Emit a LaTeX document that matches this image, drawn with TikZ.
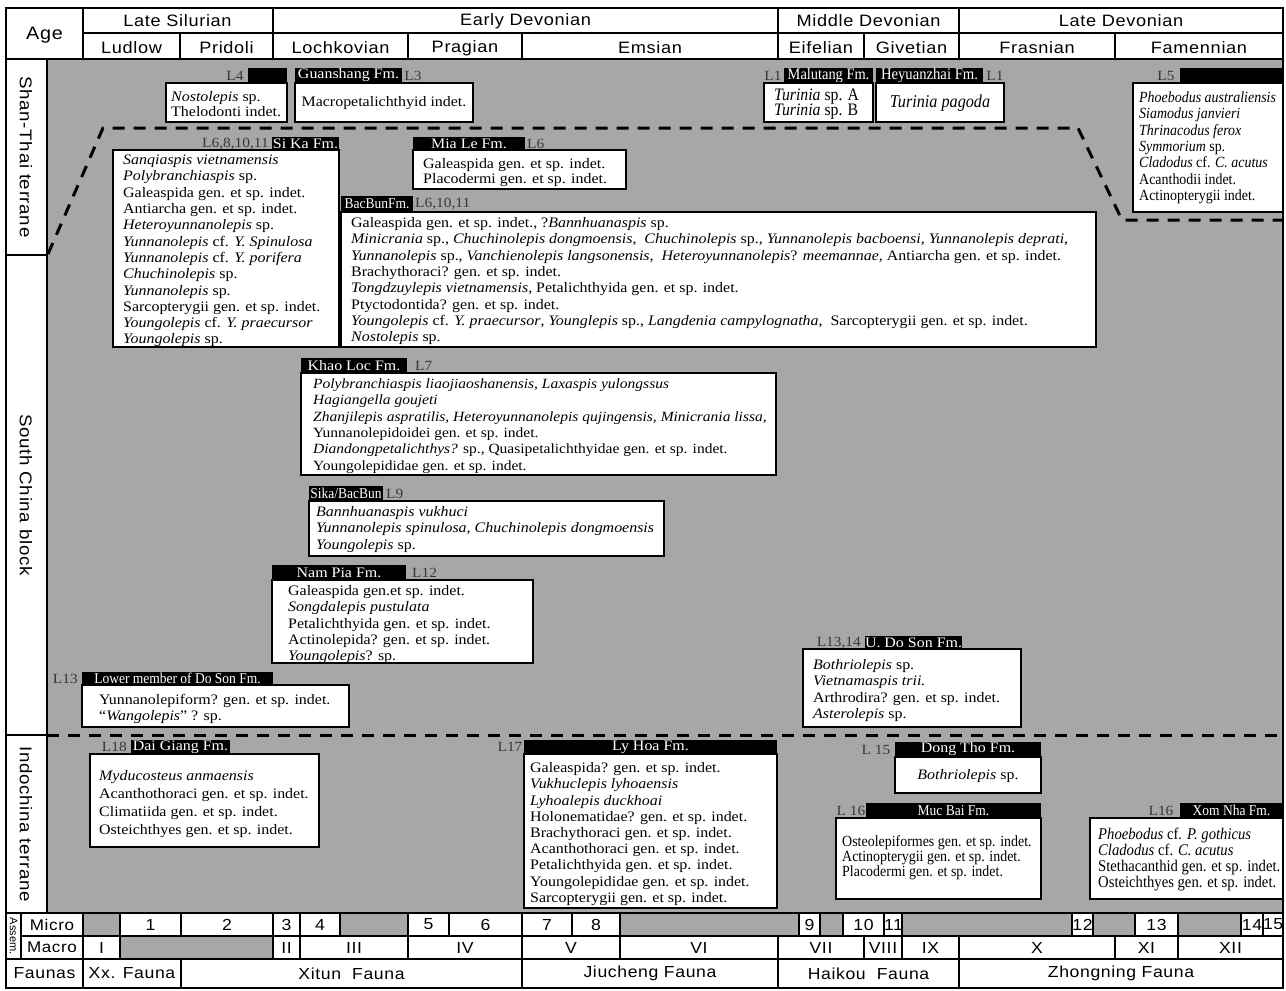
\documentclass[tikz,border=0pt]{standalone}
\usepackage{fontspec}
\setmainfont{Liberation Serif}
\setsansfont{Liberation Sans}
\newfontfamily\bodyserif[FakeStretch=1.1]{Liberation Serif}
\newfontfamily\narrowserif[FakeStretch=0.9]{Liberation Serif}
\newfontfamily\hdsans[FakeStretch=1.1, LetterSpace=4]{Liberation Sans}
\definecolor{bggray}{RGB}{167,167,167}
\definecolor{taggray}{RGB}{55,55,55}
\newcommand{\fl}{\rule{0pt}{11pt}}
\newcommand{\bodyfont}[1]{\bodyserif\fontsize{14.5}{#1}\selectfont}
\newcommand{\narrowfont}[1]{\narrowserif\fontsize{15.5}{#1}\selectfont}
\tikzset{
  fossil/.style={draw=black, line width=1.3pt, fill=white, inner sep=0pt, outer sep=0pt, anchor=north west},
  bar/.style={fill=black, text=white, inner sep=0pt, outer sep=0pt, anchor=north west, font=\bodyserif\fontsize{14.5}{14.5}\selectfont},
  nbar/.style={bar, font=\narrowserif\fontsize{15}{15}\selectfont},
  ltag/.style={text=taggray, inner sep=0pt, font=\bodyserif\fontsize{14}{14}\selectfont},
  txt/.style={inner sep=0pt, align=left, anchor=north west, font=\bodyfont{16.3}},
  ntxt/.style={inner sep=0pt, align=left, anchor=north west, font=\narrowfont{16.3}},
  hd/.style={inner sep=0pt, font=\hdsans\fontsize{16.5}{16.5}\selectfont},
  cell/.style={draw=black, line width=1.2pt, inner sep=0pt, outer sep=0pt, anchor=north west, font=\hdsans\fontsize{16}{16}\selectfont},
  bnd/.style={line width=3pt, dash pattern=on 12pt off 9pt},
  sepline/.style={line width=1.5pt},
}
\begin{document}
\begin{tikzpicture}[x=1pt,y=-1pt]
\useasboundingbox (0,0) rectangle (1286,991);
\fill[white] (0,0) rectangle (1286,991);
% gray field
\fill[bggray] (47,59) rectangle (1283,913);

% terrane boundaries
\coordinate (b1) at (48,254);
\coordinate (b2) at (103,128);
\coordinate (b3) at (1078,128);
\coordinate (b4) at (1122,220);
\coordinate (b5) at (1283,220);
\draw[bnd] (b1) -- (b2) -- (b3) -- (b4) -- (b5);
\coordinate (c1) at (47,735);
\coordinate (c2) at (1283,735);
\draw[bnd] (c1) -- (c2);

% ---------- Shan-Thai boxes
\node[ltag] (l4tag) at (235,75.5) {L4};
\node[bar, minimum width=39pt, minimum height=15pt] (l4bar) at (248,68) {};
\node[fossil, minimum width=121pt, minimum height=39pt] (l4box) at (166,83) {};
\node[txt, font=\bodyfont{15}] (l4txt) at (171,90.4) {\fl\textit{Nostolepis} sp.\\Thelodonti indet.};

\node[bar, minimum width=107pt, minimum height=15pt] (guanbar) at (295,68) {Guanshang Fm.};
\node[ltag] (l3tag) at (413,75.5) {L3};
\node[fossil, minimum width=178pt, minimum height=39pt] (guanbox) at (295,83) {};
\node[inner sep=0pt, font=\bodyfont{16}] (guantxt) at (384,103) {Macropetalichthyid indet.};

\node[ltag] (l1atag) at (773,75.5) {L1};
\node[nbar, minimum width=89pt, minimum height=15pt, font=\narrowserif\fontsize{16}{16}\selectfont] (malubar) at (784,68) {Malutang Fm.};
\node[fossil, minimum width=109pt, minimum height=39pt] (malubox) at (764,83) {};
\node[ntxt, font=\narrowserif\fontsize{17.5}{15.5}\selectfont] (malutxt) at (774,88.4) {\fl\textit{Turinia} sp. A\\\textit{Turinia} sp. B};

\node[nbar, minimum width=107pt, minimum height=15pt, font=\narrowserif\fontsize{16.3}{16.3}\selectfont] (heybar) at (876,68) {Heyuanzhai Fm.};
\node[ltag] (l1btag) at (995,75.5) {L1};
\node[fossil, minimum width=128pt, minimum height=39pt] (heybox) at (876,83) {};
\node[inner sep=0pt, font=\narrowserif\fontsize{18}{18}\selectfont] (heytxt) at (940,103) {\textit{Turinia pagoda}};

\node[ltag] (l5tag) at (1166,75.5) {L5};
\node[bar, minimum width=103pt, minimum height=15pt] (l5bar) at (1180,68) {};
\node[fossil, minimum width=150pt, minimum height=129pt] (l5box) at (1133,83) {};
\node[ntxt] (l5txt) at (1139,91.4) {\fl\textit{Phoebodus australiensis}\\\textit{Siamodus janvieri}\\\textit{Thrinacodus ferox}\\\textit{Symmorium} sp.\\\textit{Cladodus} cf. \textit{C. acutus}\\Acanthodii indet.\\Actinopterygii indet.};

% ---------- South China boxes
\node[ltag, anchor=east] (sikatag) at (269,143.5) {L6,8,10,11};
\node[bar, minimum width=67pt, minimum height=13pt] (sikabar) at (272,137) {Si Ka Fm.};
\node[fossil, minimum width=226pt, minimum height=197pt] (sikabox) at (113,150) {};
\node[txt] (sikatxt) at (123,153.4) {\fl\textit{Sanqiaspis vietnamensis}\\\textit{Polybranchiaspis} sp.\\Galeaspida gen. et sp. indet.\\Antiarcha gen. et sp. indet.\\\textit{Heteroyunnanolepis} sp.\\\textit{Yunnanolepis} cf. \textit{Y. Spinulosa}\\\textit{Yunnanolepis} cf. \textit{Y. porifera}\\\textit{Chuchinolepis} sp.\\\textit{Yunnanolepis} sp.\\Sarcopterygii gen. et sp. indet.\\\textit{Youngolepis} cf. \textit{Y. praecursor}\\\textit{Youngolepis} sp.};

\node[bar, minimum width=112pt, minimum height=13pt] (mialebar) at (413,137) {Mia Le Fm.};
\node[ltag, anchor=west] (mialetag) at (527,143.5) {L6};
\node[fossil, minimum width=213pt, minimum height=39pt] (mialebox) at (413,150) {};
\node[txt, font=\bodyfont{15}] (mialetxt) at (423,157.4) {\fl Galeaspida gen. et sp. indet.\\Placodermi gen. et sp. indet.};

\node[nbar, minimum width=72pt, minimum height=16pt] (bacbar) at (341,196) {BacBunFm.};
\node[ltag, anchor=west] (bactag) at (415,204) {L6,10,11};
\node[fossil, minimum width=755pt, minimum height=135pt] (bacbox) at (341,212) {};
\node[txt] (bactxt) at (351,216.4) {\fl Galeaspida gen. et sp. indet., ?\textit{Bannhuanaspis} sp.\\
\textit{Minicrania} sp., \textit{Chuchinolepis dongmoensis},\ \ \textit{Chuchinolepis} sp., \textit{Yunnanolepis bacboensi}, \textit{Yunnanolepis deprati},\\
\textit{Yunnanolepis} sp., \textit{Vanchienolepis langsonensis},\ \ \textit{Heteroyunnanolepis}? \textit{meemannae,} Antiarcha gen. et sp. indet.\\
Brachythoraci? gen. et sp. indet.\\
\textit{Tongdzuylepis vietnamensis}, Petalichthyida gen. et sp. indet.\\
Ptyctodontida? gen. et sp. indet.\\
\textit{Youngolepis} cf. \textit{Y. praecursor}, \textit{Younglepis} sp., \textit{Langdenia campylognatha,}\ \ Sarcopterygii gen. et sp. indet.\\
\textit{Nostolepis} sp.};

\node[bar, minimum width=106pt, minimum height=15pt] (khaobar) at (301,358) {Khao Loc Fm.};
\node[ltag, anchor=west] (khaotag) at (415,366) {L7};
\node[fossil, minimum width=475pt, minimum height=102pt] (khaobox) at (301,373) {};
\node[txt, font=\bodyserif\fontsize{14.1}{16.3}\selectfont] (khaotxt) at (313,377.4) {\fl\textit{Polybranchiaspis liaojiaoshanensis, Laxaspis yulongssus}\\
\textit{Hagiangella goujeti}\\
\textit{Zhanjilepis aspratilis, Heteroyunnanolepis qujingensis, Minicrania lissa,}\\
Yunnanolepidoidei gen. et sp. indet.\\
\textit{Diandongpetalichthys?} sp., Quasipetalichthyidae gen. et sp. indet.\\
Youngolepididae gen. et sp. indet.};

\node[nbar, minimum width=74pt, minimum height=15pt] (sbbar) at (309,486) {Sika/BacBun};
\node[ltag, anchor=west] (sbtag) at (386,494) {L9};
\node[fossil, minimum width=355pt, minimum height=55pt] (sbbox) at (309,501) {};
\node[txt] (sbtxt) at (316,505.4) {\fl\textit{Bannhuanaspis vukhuci}\\\textit{Yunnanolepis spinulosa, Chuchinolepis dongmoensis}\\\textit{Youngolepis} sp.};

\node[bar, minimum width=134pt, minimum height=15pt] (npbar) at (272,565) {Nam Pia Fm.};
\node[ltag, anchor=west] (nptag) at (412,573) {L12};
\node[fossil, minimum width=261pt, minimum height=83pt] (npbox) at (272,580) {};
\node[txt] (nptxt) at (288,584.4) {\fl Galeaspida gen.et sp. indet.\\\textit{Songdalepis pustulata}\\Petalichthyida gen. et sp. indet.\\Actinolepida? gen. et sp. indet.\\\textit{Youngolepis}? sp.};

\node[ltag, anchor=east] (ldtag) at (78,679) {L13};
\node[nbar, minimum width=191pt, minimum height=13pt] (ldbar) at (82,672) {Lower member of Do Son Fm.};
\node[fossil, minimum width=267pt, minimum height=42pt] (ldbox) at (82,685) {};
\node[txt] (ldtxt) at (99,693.4) {\fl Yunnanolepiform? gen. et sp. indet.\\“\textit{Wangolepis}” ? sp.};

\node[ltag, anchor=east] (udtag) at (861,642.5) {L13,14};
\node[bar, minimum width=93pt, minimum height=13pt] (udbar) at (865,636) {U. Do Son Fm.};
\node[fossil, minimum width=218pt, minimum height=78pt] (udbox) at (803,649) {};
\node[txt] (udtxt) at (813,658.4) {\fl\textit{Bothriolepis} sp.\\\textit{Vietnamaspis trii.}\\Arthrodira? gen. et sp. indet.\\\textit{Asterolepis} sp.};

% ---------- Indochina boxes
\node[ltag, anchor=east] (dgtag) at (127,747) {L18};
\node[bar, minimum width=99pt, minimum height=14pt] (dgbar) at (131,740) {Dai Giang Fm.};
\node[fossil, minimum width=229pt, minimum height=93pt] (dgbox) at (90,754) {};
\node[txt, font=\bodyfont{18}] (dgtxt) at (99,769.4) {\fl\textit{Myducosteus anmaensis}\\Acanthothoraci gen. et sp. indet.\\Climatiida gen. et sp. indet.\\Osteichthyes gen. et sp. indet.};

\node[ltag] (lhtag) at (510,747) {L17};
\node[bar, minimum width=253pt, minimum height=14pt] (lhbar) at (524,740) {Ly Hoa Fm.};
\node[fossil, minimum width=253pt, minimum height=154pt] (lhbox) at (524,754) {};
\node[txt, font=\bodyfont{16.2}] (lhtxt) at (530,761.4) {\fl Galeaspida? gen. et sp. indet.\\\textit{Vukhuclepis lyhoaensis}\\\textit{Lyhoalepis duckhoai}\\Holonematidae? gen. et sp. indet.\\Brachythoraci gen. et sp. indet.\\Acanthothoraci gen. et sp. indet.\\Petalichthyida gen. et sp. indet.\\Youngolepididae gen. et sp. indet.\\Sarcopterygii gen. et sp. indet.};

\node[ltag] (dttag) at (876,749.5) {L 15};
\node[bar, minimum width=146pt, minimum height=15pt] (dtbar) at (895,742) {Dong Tho Fm.};
\node[fossil, minimum width=146pt, minimum height=36pt] (dtbox) at (895,757) {};
\node[inner sep=0pt, font=\bodyfont{16}] (dttxt) at (968,776) {\textit{Bothriolepis} sp.};

\node[ltag] (mbtag) at (851,810.5) {L 16};
\node[nbar, minimum width=175pt, minimum height=15pt] (mbbar) at (866,803) {Muc Bai Fm.};
\node[fossil, minimum width=205pt, minimum height=81pt] (mbbox) at (836,818) {};
\node[ntxt, font=\narrowfont{15}] (mbtxt) at (842,835.4) {\fl Osteolepiformes gen. et sp. indet.\\Actinopterygii gen. et sp. indet.\\Placodermi gen. et sp. indet.};

\node[ltag] (xntag) at (1161,810.5) {L16};
\node[nbar, minimum width=103pt, minimum height=15pt] (xnbar) at (1180,803) {Xom Nha Fm.};
\node[fossil, minimum width=193pt, minimum height=81pt] (xnbox) at (1090,818) {};
\node[ntxt, font=\narrowserif\fontsize{16.3}{16}\selectfont] (xntxt) at (1098,827.4) {\fl\textit{Phoebodus} cf. \textit{P. gothicus}\\\textit{Cladodus} cf. \textit{C. acutus}\\Stethacanthid gen. et sp. indet.\\Osteichthyes gen. et sp. indet.};

% ---------- header
\draw[sepline] (83,33) -- (1283,33);
\foreach \x in {83,273,778,959} \draw[sepline] (\x,8) -- (\x,59);
\foreach \x in {180,408,522,864,1115} \draw[sepline] (\x,33) -- (\x,59);
\draw[line width=2.2pt] (6,59) -- (1283,59);
\node[hd, font=\hdsans\fontsize{18}{18}\selectfont] (age) at (44.5,35) {Age};
\node[hd] (lsil) at (177.5,21) {Late Silurian};
\node[hd] (edev) at (525.5,21) {Early Devonian};
\node[hd] (mdev) at (868.5,21) {Middle Devonian};
\node[hd] (ldev) at (1121,21) {Late Devonian};
\node[hd] (ludlow) at (131.5,48) {Ludlow};
\node[hd] (pridoli) at (226.5,48) {Pridoli};
\node[hd] (lochk) at (340.5,48) {Lochkovian};
\node[hd] (prag) at (465,48) {Pragian};
\node[hd] (ems) at (650,48) {Emsian};
\node[hd] (eif) at (821,48) {Eifelian};
\node[hd] (giv) at (911.5,48) {Givetian};
\node[hd] (fras) at (1037,48) {Frasnian};
\node[hd] (fam) at (1199,48) {Famennian};

% ---------- left column
\draw[line width=2pt] (47,59) -- (47,913);
\draw[sepline] (6,255) -- (47,255);
\draw[sepline] (6,735) -- (47,735);
\node[hd, rotate=-90, font=\hdsans\fontsize{17}{17}\selectfont] (shan) at (26,157) {Shan-Thai terrane};
\node[hd, rotate=-90, font=\hdsans\fontsize{17}{17}\selectfont] (scb) at (26,495) {South China block};
\node[hd, rotate=-90, font=\hdsans\fontsize{17}{17}\selectfont] (indo) at (26,824) {Indochina terrane};

% ---------- bottom rows
\node[cell, minimum width=15pt, minimum height=46pt] (assem) at (6,913) {};
\node[inner sep=0pt, rotate=-90, font=\sffamily\fontsize{11}{11}\selectfont] (assemt) at (assem.center) {Assem.};
\node[cell, minimum width=62pt, minimum height=23pt, font=\hdsans\fontsize{15.5}{15.5}\selectfont] (microl) at (21,913) {Micro};
\node[cell, minimum width=62pt, minimum height=23pt, font=\hdsans\fontsize{15.5}{15.5}\selectfont] (macrol) at (21,936) {Macro};
\node[cell, minimum width=77pt, minimum height=29pt] (faunal) at (6,959) {Faunas};
\foreach \a/\b/\f/\t [count=\i] in {83/120/bggray/{}, 120/181/white/1, 181/273/white/2, 273/300/white/3, 300/340/white/4, 340/408/bggray/{}, 408/449/white/5, 449/522/white/6, 522/572/white/7, 572/620/white/8, 620/799/bggray/{}, 799/820/white/9, 820/843/bggray/{}, 843/884/white/10, 884/902/white/11, 902/1072/bggray/{}, 1072/1093/white/12, 1093/1135/bggray/{}, 1135/1178/white/13, 1178/1241/bggray/{}, 1241/1263/white/14, 1263/1283/white/15}
  \node[cell, fill=\f, minimum width={(\b-\a)*1pt}, minimum height=23pt] (mic\i) at (\a,913) {\t};
\foreach \a/\b/\f/\t [count=\i] in {83/120/white/I, 120/273/bggray/{}, 273/300/white/II, 300/408/white/III, 408/522/white/IV, 522/620/white/V, 620/778/white/VI, 778/864/white/VII, 864/902/white/VIII, 902/959/white/IX, 959/1115/white/X, 1115/1178/white/XI, 1178/1283/white/XII}
  \node[cell, fill=\f, minimum width={(\b-\a)*1pt}, minimum height=23pt] (mac\i) at (\a,936) {\t};
\foreach \a/\b/\t [count=\i] in {83/181/{Xx. Fauna}, 181/522/{Xitun\ \ Fauna}, 522/778/{Jiucheng Fauna}, 778/959/{Haikou\ \ Fauna}, 959/1283/{Zhongning Fauna}}
  \node[cell, fill=white, minimum width={(\b-\a)*1pt}, minimum height=29pt] (fau\i) at (\a,959) {\t};
\draw[line width=2.2pt] (6,913) -- (1283,913);
\draw[line width=2.2pt] (6,959) -- (1283,959);

% outer frame
\draw[line width=2.5pt] (6,8) rectangle (1283,988);
\end{tikzpicture}
\end{document}
